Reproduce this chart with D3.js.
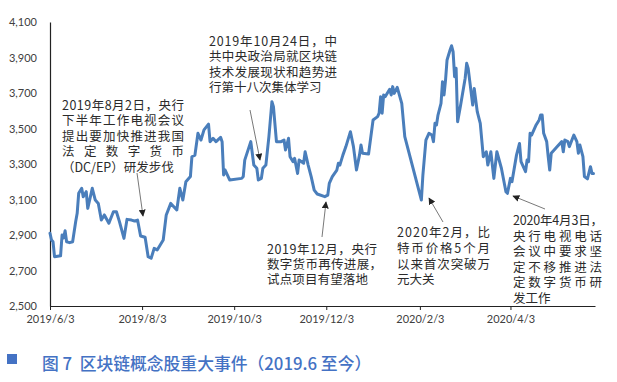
<!DOCTYPE html>
<html><head><meta charset="utf-8">
<script src="https://cdn.jsdelivr.net/npm/d3@7"></script>
<style>body{margin:0;background:#fff}</style>
</head><body>
<svg id="c" width="617" height="382"></svg>
<script>
const dates = ["2019-06-03","2019-06-04","2019-06-05","2019-06-06","2019-06-10","2019-06-11","2019-06-12","2019-06-13","2019-06-14","2019-06-16","2019-06-18","2019-06-20","2019-06-21","2019-06-22","2019-06-24","2019-06-25","2019-06-27","2019-06-28","2019-07-01","2019-07-03","2019-07-05","2019-07-07","2019-07-09","2019-07-12","2019-07-15","2019-07-17","2019-07-19","2019-07-22","2019-07-24","2019-07-27","2019-07-29","2019-07-31","2019-08-02","2019-08-05","2019-08-07","2019-08-09","2019-08-11","2019-08-13","2019-08-15","2019-08-17","2019-08-19","2019-08-22","2019-08-26","2019-08-28","2019-08-30","2019-09-01","2019-09-04","2019-09-05","2019-09-07","2019-09-09","2019-09-11","2019-09-13","2019-09-16","2019-09-17","2019-09-19","2019-09-21","2019-09-24","2019-09-25","2019-09-26","2019-09-27","2019-09-30","2019-10-08","2019-10-09","2019-10-10","2019-10-14","2019-10-16","2019-10-18","2019-10-19","2019-10-21","2019-10-22","2019-10-24","2019-10-26","2019-10-28","2019-10-29","2019-10-31","2019-11-03","2019-11-05","2019-11-06","2019-11-08","2019-11-09","2019-11-11","2019-11-12","2019-11-14","2019-11-15","2019-11-18","2019-11-19","2019-11-21","2019-11-23","2019-11-25","2019-11-27","2019-12-02","2019-12-04","2019-12-05","2019-12-07","2019-12-10","2019-12-11","2019-12-12","2019-12-14","2019-12-16","2019-12-18","2019-12-19","2019-12-21","2019-12-23","2019-12-25","2019-12-26","2019-12-27","2019-12-31","2020-01-03","2020-01-06","2020-01-07","2020-01-08","2020-01-09","2020-01-10","2020-01-11","2020-01-13","2020-01-14","2020-01-15","2020-01-16","2020-01-17","2020-01-19","2020-01-22","2020-01-24","2020-02-04","2020-02-05","2020-02-07","2020-02-09","2020-02-11","2020-02-12","2020-02-13","2020-02-14","2020-02-15","2020-02-17","2020-02-18","2020-02-19","2020-02-20","2020-02-21","2020-02-23","2020-02-24","2020-02-25","2020-02-26","2020-02-27","2020-02-28","2020-03-01","2020-03-04","2020-03-05","2020-03-06","2020-03-09","2020-03-10","2020-03-12","2020-03-14","2020-03-16","2020-03-18","2020-03-19","2020-03-21","2020-03-23","2020-03-25","2020-03-28","2020-03-31","2020-04-01","2020-04-03","2020-04-04","2020-04-07","2020-04-09","2020-04-10","2020-04-13","2020-04-14","2020-04-15","2020-04-16","2020-04-17","2020-04-20","2020-04-22","2020-04-23","2020-04-24","2020-04-25","2020-04-27","2020-04-28","2020-04-29","2020-04-30","2020-05-04","2020-05-07","2020-05-08","2020-05-09","2020-05-11","2020-05-12","2020-05-15","2020-05-17","2020-05-18","2020-05-19","2020-05-21","2020-05-22","2020-05-24","2020-05-26","2020-05-27","2020-05-28"];
const values = [2910,2872,2862,2778,2783,2900,2883,2924,2862,2857,2862,2975,3022,3135,3163,3116,3144,3050,3163,3097,3078,2984,3013,2966,3031,3031,2975,2881,2988,2984,2979,2984,2894,2887,2778,2769,2825,2816,2844,2872,3013,3078,3041,3163,3097,3200,3229,3341,3350,3473,3435,3492,3525,3426,3445,3426,3450,3426,3238,3266,3210,3219,3229,3322,3426,3294,3276,3210,3219,3276,3294,3454,3651,3623,3426,3426,3435,3379,3445,3341,3313,3332,3247,3322,3304,3369,3294,3229,3153,3131,3116,3125,3191,3229,3266,3304,3294,3350,3398,3454,3482,3398,3266,3350,3407,3360,3356,3548,3567,3586,3679,3586,3689,3679,3707,3721,3689,3736,3698,3732,3642,3454,3097,3238,3435,3473,3463,3426,3529,3520,3576,3642,3764,3689,3773,3886,3942,3966,3933,3792,3839,3538,3632,3783,3867,3839,3632,3726,3595,3529,3341,3369,3294,3369,3219,3369,3276,3144,3135,3219,3200,3350,3416,3313,3257,3322,3313,3473,3463,3520,3548,3576,3576,3473,3426,3341,3266,3360,3398,3426,3369,3435,3426,3398,3463,3426,3360,3407,3341,3229,3216,3285,3247,3247];
const yTicks = [2500,2700,2900,3100,3300,3500,3700,3900,4100];
const xTickLabels = ["2019/6/3","2019/8/3","2019/10/3","2019/12/3","2020/2/3","2020/4/3"];
const xDomain = ["2019/6/3","2020/5/29"];
const note1 = ["2019年8月2日，央行","下半年工作电视会议","提出要加快推进我国","法定数字货币","（DC/EP）研发步伐"];
const note2 = ["2019年10月24日，中","共中央政治局就区块链","技术发展现状和趋势进","行第十八次集体学习"];
const note3 = ["2019年12月，央行","数字货币再传进展，","试点项目有望落地"];
const note4 = ["2020年2月，比","特币价格5个月","以来首次突破万","元大关"];
const note5 = ["2020年4月3日，","央行电视电话","会议中要求坚","定不移推进法","定数字货币研","发工作"];
const caption = "图 7  区块链概念股重大事件（2019.6 至今）";

const svg = d3.select("#c");
svg.append("rect").attr("width",617).attr("height",382).attr("fill","#fff");
const parse = d3.timeParse("%Y-%m-%d");
const parseL = d3.timeParse("%Y/%m/%d");
const data = dates.map((d,i)=>({date:parse(d), v:values[i]}));

const x = d3.scaleTime().domain(xDomain.map(parseL)).range([50,595]);
const y = d3.scaleLinear().domain([2500,4100]).range([306,22]);

const numFont = "Lato, 'Liberation Sans', sans-serif";
const cjkFont = "'Noto Sans CJK SC', sans-serif";

// y axis
const ya = svg.append("g").attr("transform","translate(50,0)")
  .call(d3.axisLeft(y).tickValues(yTicks).tickSize(0).tickSizeOuter(0).tickPadding(13).tickFormat(d3.format(",")));
ya.select(".domain").attr("stroke","#222").attr("stroke-width",1.2);
ya.selectAll("text").attr("font-family",numFont).attr("font-size",11).attr("fill","#404040");

// x axis
const xa = svg.append("g").attr("transform","translate(0,306)")
  .call(d3.axisBottom(x).tickValues(xTickLabels.map(parseL)).tickSize(4).tickSizeOuter(0).tickPadding(5).tickFormat(d3.timeFormat("%Y/%-m/%-d")));
xa.select(".domain").attr("stroke","#222").attr("stroke-width",1.2);
xa.selectAll(".tick line").attr("stroke","#222");
xa.selectAll("text").attr("font-family",numFont).attr("font-size",11).attr("fill","#404040");

// line
svg.append("path").datum(data)
  .attr("fill","none").attr("stroke","#4a7ebb").attr("stroke-width",3)
  .attr("stroke-linejoin","round").attr("stroke-linecap","round")
  .attr("d", d3.line().x(d=>x(d.date)).y(d=>y(d.v)));

// arrow marker
svg.append("defs").append("marker").attr("id","ah").attr("viewBox","0 0 10 10")
  .attr("refX",9).attr("refY",5).attr("markerWidth",7).attr("markerHeight",7)
  .attr("markerUnits","userSpaceOnUse").attr("orient","auto")
  .append("path").attr("d","M0,0L10,5L0,10Z").attr("fill","#222");

function note(lines, x0, y0, step, widths){
  const t = svg.append("text")
    .attr("font-family",cjkFont).attr("font-size",12.5).attr("fill","#2b2b2b");
  lines.forEach((s,i)=>{
    const ts = t.append("tspan").attr("x",x0).attr("y",y0+i*step)
      .attr("dominant-baseline","central").text(s);
    if (widths[i]) ts.attr("textLength",widths[i]).attr("lengthAdjust","spacing");
  });
}
function arrow(x1,y1,x2,y2){
  svg.append("line").attr("x1",x1).attr("y1",y1).attr("x2",x2).attr("y2",y2)
    .attr("stroke","#555").attr("stroke-width",0.8).attr("marker-end","url(#ah)");
}
note(note1, 62, 104, 15.6, [122,122,122,122,0]);
arrow(137,173,143,216);
note(note2, 209, 40, 15.6, [128,128,128,0]);
arrow(250,110,260,160);
note(note3, 267, 248.5, 15, [110,115,101]);
arrow(322,237,326,202);
note(note4, 397, 231.5, 15.8, [93,93,93,0]);
arrow(443,222,429,198);
note(note5, 513, 219.5, 15.5, [90,89,89,89,89,0]);
arrow(545,209,513,196);

// caption
svg.append("rect").attr("x",7).attr("y",354).attr("width",10).attr("height",10).attr("fill","#4472c4");
svg.append("text").attr("x",42).attr("y",363).attr("dominant-baseline","central")
  .attr("font-family",cjkFont).attr("font-size",16.8).attr("font-weight",500).attr("fill","#4472c4")
  .attr("xml:space","preserve").style("white-space","pre").text(caption);
</script>
</body></html>
